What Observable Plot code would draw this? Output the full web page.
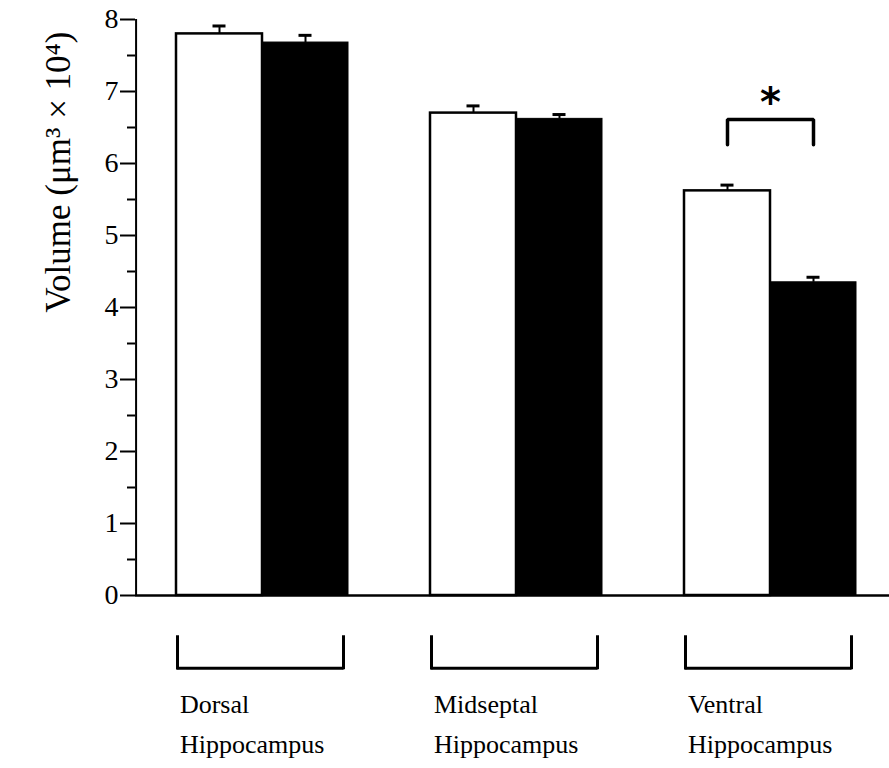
<!DOCTYPE html>
<html>
<head>
<meta charset="utf-8">
<script src="https://cdn.jsdelivr.net/npm/d3@7"></script>
<script src="https://cdn.jsdelivr.net/npm/@observablehq/plot@0.6"></script>
<style>
  html, body { margin: 0; padding: 0; background: #fff; }
</style>
</head>
<body>
<div id="chart"></div>
<script>
// Hippocampal volume by region, two groups (open vs. filled bars), mean ± SE.
const regions = ["Dorsal", "Midseptal", "Ventral"];
const regionLabels = ["Dorsal\nHippocampus", "Midseptal\nHippocampus", "Ventral\nHippocampus"];
const groups = ["open", "filled"];
const openMeans = [7.80, 6.70, 5.62];
const openErrors = [0.11, 0.10, 0.08];
const filledMeans = [7.68, 6.62, 4.35];
const filledErrors = [0.10, 0.06, 0.07];
const yTicks = [0, 1, 2, 3, 4, 5, 6, 7, 8];
const yMinorTicks = [0.5, 1.5, 2.5, 3.5, 4.5, 5.5, 6.5, 7.5];
const yLabel = "Volume (μm³ × 10⁴)";
const significantRegion = "Ventral";
const significanceMark = "*";

const bars = regions.flatMap((region, i) => [
  {region, group: "open", mean: openMeans[i], se: openErrors[i]},
  {region, group: "filled", mean: filledMeans[i], se: filledErrors[i]}
]);
const openBars = bars.filter(d => d.group === "open");
const filledBars = bars.filter(d => d.group === "filled");
const regionRows = regions.map((region, i) => ({region, label: regionLabels[i]}));

// significance bracket joining the two bar centres of one region
const sigBracket = [
  {region: significantRegion, group: "open", y: 6.26},
  {region: significantRegion, group: "open", y: 6.61},
  {region: significantRegion, group: "filled", y: 6.61},
  {region: significantRegion, group: "filled", y: 6.26}
];

const serif = "'Liberation Serif', 'Times New Roman', Times, serif";

const base = {
  width: 889,
  height: 768,
  marginLeft: 135,
  marginRight: -8,
  marginTop: 19,
  marginBottom: 173,
  style: {fontFamily: serif, fontSize: "26px", background: "white", color: "black", overflow: "visible"},
  fx: {domain: regions, padding: 0, axis: null},
  x: {domain: groups, paddingInner: 0, paddingOuter: 0.47, axis: null},
  y: {domain: [0, 8]}
};

function build(bw, pad) {
  const bracketTop = -0.58, bracketBottom = -1.01;
  return Plot.plot({
    ...base,
    marks: [
      // bars
      Plot.barY(openBars, {fx: "region", x: "group", y: "mean", fill: "white", stroke: "black", strokeWidth: 2.5}),
      Plot.barY(filledBars, {fx: "region", x: "group", y: "mean", fill: "black", stroke: "black", strokeWidth: 1}),
      // error bars
      Plot.ruleX(bars, {fx: "region", x: "group", y1: "mean", y2: d => d.mean + d.se, strokeWidth: 2}),
      Plot.tickY(bars, {fx: "region", x: "group", y: d => d.mean + d.se, strokeWidth: 3, insetLeft: (bw - 13) / 2, insetRight: (bw - 13) / 2}),
      // baseline, continuous across facets
      Plot.ruleY([0], {strokeWidth: 2.5}),
      // vertical axis line
      Plot.ruleX(openBars.filter(d => d.region === regions[0]), {fx: "region", x: "group", y1: 0, y2: 8, dx: -(pad + bw / 2), strokeWidth: 2}),
      Plot.axisY(yTicks, {tickSize: 15, tickPadding: 2, strokeWidth: 2, label: null, fontSize: 28, tickFormat: d3.format("d")}),
      Plot.axisY(yMinorTicks, {tickSize: 8, strokeWidth: 2, tickFormat: () => "", label: null}),
      Plot.text([regions[0]], {fx: d => d, y: 5.88, frameAnchor: "left", dx: -77, rotate: -90, text: () => yLabel, fontSize: 35, textAnchor: "middle"}),
      // significance bracket and asterisk
      Plot.line(sigBracket, {fx: "region", x: "group", y: "y", strokeWidth: 3.5, strokeLinejoin: "miter"}),
      Plot.text([significantRegion], {fx: d => d, y: 6.84, text: () => significanceMark, fontFamily: "'DejaVu Sans', sans-serif", fontWeight: "bold", fontSize: 40}),
      // group brackets under each pair of bars
      Plot.ruleY(regionRows, {fx: "region", y: bracketBottom, insetLeft: pad + 1, insetRight: pad + 5, strokeWidth: 3}),
      Plot.ruleX(openBars, {fx: "region", x: "group", y1: bracketBottom, y2: bracketTop, dx: -bw / 2 + 1, strokeWidth: 3, strokeLinecap: "square"}),
      Plot.ruleX(filledBars, {fx: "region", x: "group", y1: bracketBottom, y2: bracketTop, dx: bw / 2 - 5, strokeWidth: 3, strokeLinecap: "square"}),
      // region labels
      Plot.text(regionRows, {fx: "region", y: -1.73, text: "label", frameAnchor: "left", textAnchor: "start", dx: pad + 4, lineHeight: 1.55, fontSize: 26})
    ]
  });
}

// first pass to read the band geometry, second pass draws with it
const probe = build(80, 40);
const xs = probe.scale("x");
const bw = xs.bandwidth;
const pad = xs.paddingOuter * xs.step;
document.getElementById("chart").append(build(bw, pad));
</script>
</body>
</html>
